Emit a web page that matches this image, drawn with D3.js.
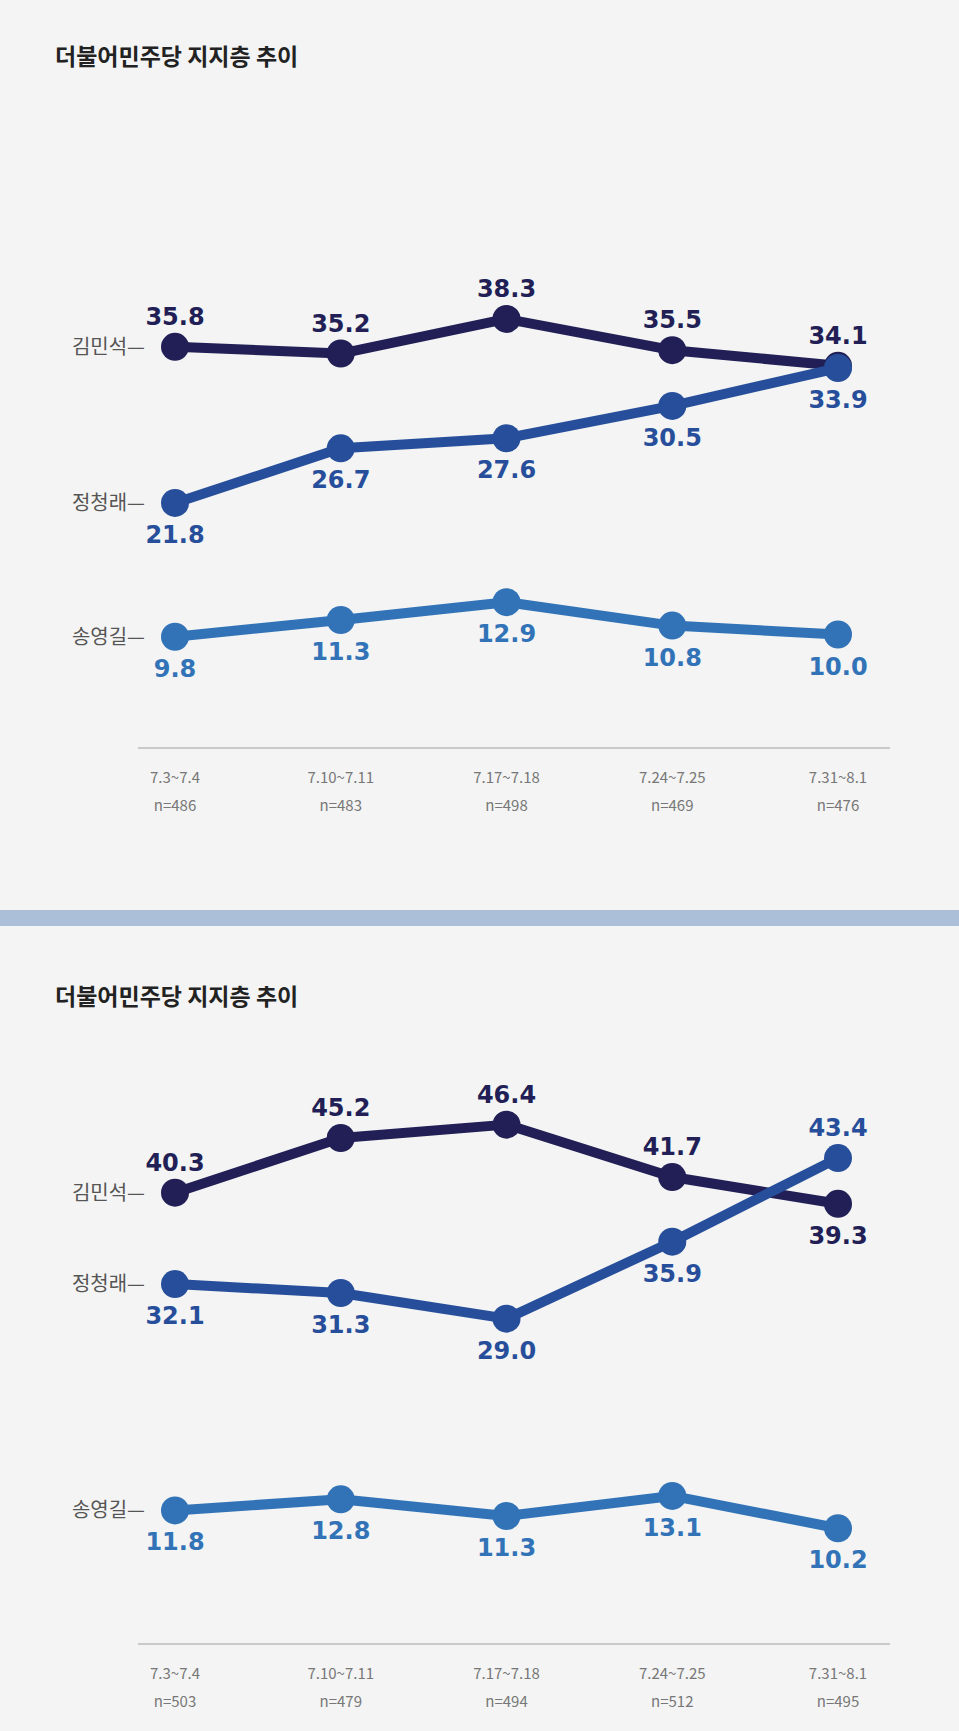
<!DOCTYPE html>
<html><head><meta charset="utf-8">
<script src="https://cdn.jsdelivr.net/npm/d3@7"></script>
<style>
body { margin:0; background:#f3f4f3; }
svg { display:block; font-family:"Noto Sans CJK KR","Noto Sans",sans-serif; }
</style></head>
<body><svg id="svg" width="959" height="1731"></svg>
<script>
var names = ["김민석", "정청래", "송영길"]
var colors = ["#211f55", "#274e9b", "#3273b8"]
var dates = ["7.3~7.4", "7.10~7.11", "7.17~7.18", "7.24~7.25", "7.31~8.1"]
var n1 = [486, 483, 498, 469, 476]
var n2 = [503, 479, 494, 512, 495]
var kim1 = [35.8, 35.2, 38.3, 35.5, 34.1]
var jung1 = [21.8, 26.7, 27.6, 30.5, 33.9]
var song1 = [9.8, 11.3, 12.9, 10.8, 10.0]
var kim2 = [40.3, 45.2, 46.4, 41.7, 39.3]
var jung2 = [32.1, 31.3, 29.0, 35.9, 43.4]
var song2 = [11.8, 12.8, 11.3, 13.1, 10.2]

var svg = d3.select("#svg")
svg.append("rect").attr("x", 0).attr("y", 910).attr("width", 959).attr("height", 16).attr("fill", "#abc0d8")

function panel(top, titleY, series, ns) {
	var g = svg.append("g")
	g.append("text").attr("x", 55).attr("y", titleY).text("더불어민주당 지지층 추이")
		.style("font-size", "23px").style("font-weight", 700).attr("fill", "#222")
	var x = d3.scalePoint().domain(dates).range([175, 838])
	var y = d3.scaleLinear().domain([0, 40]).range([top + 746, top + 300])
	g.append("line").attr("x1", 138).attr("x2", 890).attr("y1", top + 748).attr("y2", top + 748)
		.attr("stroke", "#bbb").attr("stroke-width", 1.5)
	dates.forEach(function (d, i) {
		var t = g.append("text").attr("text-anchor", "middle").attr("fill", "#777").style("font-size", "15px")
		t.append("tspan").attr("x", x(d)).attr("y", top + 783).text(d)
		t.append("tspan").attr("x", x(d)).attr("y", top + 811).text("n=" + ns[i])
	})
	var line = d3.line().x(function (d, i) { return x(dates[i]) }).y(function (d) { return y(d) })
	series.forEach(function (vals, s) {
		g.append("path").attr("d", line(vals)).attr("fill", "none")
			.attr("stroke", colors[s]).attr("stroke-width", 10).attr("stroke-linejoin", "round")
		g.append("text").attr("x", 145).attr("y", y(vals[0]) + 7).attr("text-anchor", "end")
			.attr("fill", "#555").style("font-size", "20px").text(names[s] + "—")
	})
	series.forEach(function (vals, s) {
		vals.forEach(function (v, i) {
			g.append("circle").attr("cx", x(dates[i])).attr("cy", y(v)).attr("r", 14).attr("fill", colors[s])
			var above
			if (s == 2) above = false
			else if (i == 4) above = v >= d3.max(series.slice(0, 2), function (a) { return a[4] })
			else above = s == 0
			g.append("text").attr("x", x(dates[i])).attr("y", y(v) + (above ? -22 : 40))
				.attr("text-anchor", "middle").attr("fill", colors[s])
				.style("font-size", "24px").style("font-weight", 700).style("font-family", "'DejaVu Sans',sans-serif")
				.text(v.toFixed(1))
		})
	})
}

panel(0, 65, [kim1, jung1, song1], n1)
panel(896, 1005, [kim2, jung2, song2], n2)
</script></body></html>
